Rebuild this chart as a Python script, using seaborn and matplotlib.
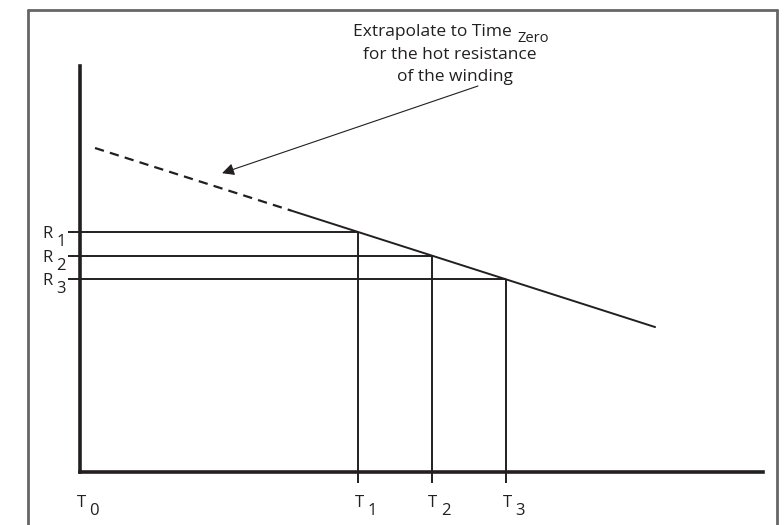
import matplotlib.pyplot as plt
import seaborn as sns

# measurement times (T0 is the time of shutdown) and the resistances read at them
time_labels = ['0', '1', '2', '3']
times = [0.0, 4.07, 5.15, 6.24]
res_labels = ['1', '2', '3']
resistances = [5.91, 5.32, 4.75]

# cooling curve: measured part (solid) and extrapolated part (dashed)
fit_t = [3.09, 8.42]
fit_r = [6.44, 3.57]
extra_t = [0.22, 3.09]
extra_r = [7.98, 6.44]

sns.set_theme(style='white')
plt.rcParams['font.family'] = ['Open Sans', 'DejaVu Sans']

W, H = 784, 525
fig = plt.figure(figsize=(W / 100, H / 100), dpi=100)
ax = fig.add_axes([80 / W, 53 / H, 683 / W, 406 / H])
ax.set_xlim(0, 10)
ax.set_ylim(0, 10)

ink = '#231f20'
sns.lineplot(x=fit_t, y=fit_r, ax=ax, color=ink, lw=1.4)
sns.lineplot(x=extra_t, y=extra_r, ax=ax, color=ink, lw=1.6, linestyle=(0, (4.2, 2.8)))

# guide lines from each reading to both axes
ax.hlines(resistances, xmin=-0.18, xmax=times[1:], color=ink, lw=1.4, clip_on=False)
ax.vlines(times[1:], ymin=-0.27, ymax=resistances, color=ink, lw=1.4, clip_on=False)

for sp in ['top', 'right']:
    ax.spines[sp].set_visible(False)
for sp in ['left', 'bottom']:
    ax.spines[sp].set_color(ink)
    ax.spines[sp].set_linewidth(2.6)
ax.set_xticks([])
ax.set_yticks([])

lab = dict(fontsize=12, color=ink, ha='center', va='center', textcoords='offset pixels',
           annotation_clip=False)
for t, s in zip(times, time_labels):
    ax.annotate('T', xy=(t, 0), xytext=(1, -31), **lab)
    ax.annotate(s, xy=(t, 0), xytext=(14, -39), **lab)
for r, s in zip(resistances, res_labels):
    ax.annotate('R', xy=(0, r), xytext=(-33, -2), **lab)
    ax.annotate(s, xy=(0, r), xytext=(-19, -10), **lab)

def fx(px):
    return px / W

def fy(py):
    return 1 - py / H

fig.text(fx(512), fy(36), 'Extrapolate to Time', fontsize=12.5, color=ink, ha='right', va='baseline')
fig.text(fx(518), fy(42), 'Zero', fontsize=10.5, color=ink, ha='left', va='baseline')
fig.text(fx(450), fy(59), 'for the hot resistance', fontsize=12.5, color=ink, ha='center', va='baseline')
fig.text(fx(455), fy(81), 'of the winding', fontsize=12.5, color=ink, ha='center', va='baseline')

ax.annotate('', xy=(2.08, 7.36), xytext=(fx(478), fy(86)), textcoords='figure fraction',
            arrowprops=dict(arrowstyle='-|>', color=ink, lw=0.8, mutation_scale=18,
                            shrinkA=0, shrinkB=0))

# outer frame, open at the bottom
frame = dict(transform=fig.transFigure, color='#666666', lw=2)
fig.add_artist(plt.Line2D([fx(28), fx(28)], [0, fy(10)], **frame))
fig.add_artist(plt.Line2D([fx(28), fx(777)], [fy(10), fy(10)], **frame))
fig.add_artist(plt.Line2D([fx(777), fx(777)], [fy(10), 0], **frame))

fig.savefig('out.png', dpi=100)
